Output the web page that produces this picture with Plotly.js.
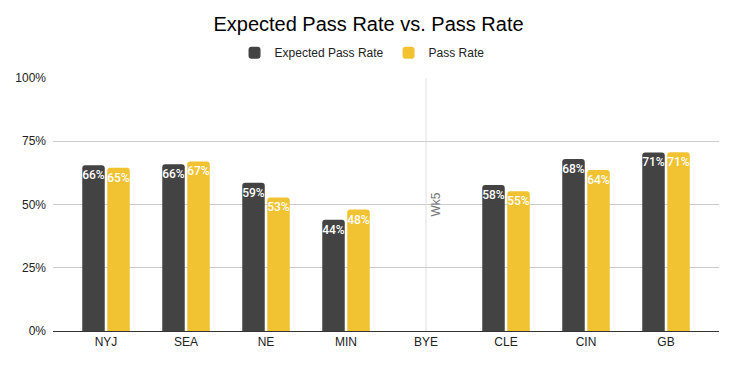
<!DOCTYPE html>
<html>
<head>
<meta charset="utf-8">
<script src="https://cdn.plot.ly/plotly-3.0.1.min.js"></script>
<style>html,body{margin:0;padding:0;background:#fff}#chart{width:737px;height:366px}</style>
</head>
<body>
<div id="chart"></div>
<script>
const categories = ['NYJ', 'SEA', 'NE', 'MIN', 'BYE', 'CLE', 'CIN', 'GB'];
const expectedPassRate = [0.655, 0.659, 0.586, 0.44, null, 0.577, 0.68, 0.706];
const passRate = [0.645, 0.67, 0.528, 0.48, null, 0.552, 0.636, 0.707];
const yTickVals = [0, 0.25, 0.5, 0.75, 1];
const yTickText = ['0%', '25%', '50%', '75%', '100%'];
const byeLabel = 'Wk5';

const font = 'Arial, "Liberation Sans", sans-serif';
const labelFont = 'Roboto, Arial, sans-serif';
const labelsFor = arr => arr.map(v => v == null ? '' : Math.round(v * 100) + '%');

const common = {
  type: 'bar',
  x: categories,
  textposition: 'inside',
  insidetextanchor: 'end',
  constraintext: 'none',
  textangle: 0,
  textfont: {family: labelFont, size: 12, color: '#ffffff', weight: 500},
  hoverinfo: 'skip'
};

const traces = [
  Object.assign({}, common, {
    name: 'Expected Pass Rate',
    y: expectedPassRate,
    text: labelsFor(expectedPassRate),
    marker: {color: '#434343'}
  }),
  Object.assign({}, common, {
    name: 'Pass Rate',
    y: passRate,
    text: labelsFor(passRate),
    marker: {color: '#f1c232'}
  })
];

const layout = {
  width: 737, height: 366,
  margin: {l: 53, r: 18, t: 78, b: 35},
  paper_bgcolor: '#ffffff', plot_bgcolor: '#ffffff',
  font: {family: font, size: 12, color: '#222222'},
  title: {text: 'Expected Pass Rate vs. Pass Rate', x: 0.5, xanchor: 'center', y: 0.935, yanchor: 'middle',
          font: {family: font, size: 20, color: '#000000'}},
  showlegend: true,
  legend: {orientation: 'h', x: 0.464, xanchor: 'center', y: 1.1, yanchor: 'middle',
           font: {family: font, size: 12, color: '#222222'}, itemwidth: 30},
  barmode: 'group',
  bargap: 0.375,
  bargroupgap: 0.1,
  barcornerradius: 3,
  xaxis: {
    type: 'category',
    range: [-0.6625, 7.6625],
    showgrid: false,
    showline: true, linecolor: '#333333', linewidth: 1,
    ticks: '', tickfont: {family: font, size: 12, color: '#222222'},
    fixedrange: true
  },
  yaxis: {
    range: [0, 1],
    tickvals: yTickVals, ticktext: yTickText,
    showgrid: true, gridcolor: '#cccccc', gridwidth: 1,
    zeroline: false, showline: false,
    ticks: '', ticklabelstandoff: 6,
    tickfont: {family: font, size: 12, color: '#222222'},
    fixedrange: true
  },
  shapes: [{
    type: 'line', xref: 'x', yref: 'paper',
    x0: categories[4], x1: categories[4], y0: 0, y1: 1,
    line: {color: '#e0e0e0', width: 1}, layer: 'below'
  }],
  annotations: [{
    xref: 'x', yref: 'y', x: categories[4], y: 0.5,
    xshift: 9, text: byeLabel, showarrow: false, textangle: -90,
    font: {family: font, size: 12, color: '#757575'}
  }]
};

Plotly.newPlot('chart', traces, layout, {displayModeBar: false, staticPlot: true});
</script>
</body>
</html>
